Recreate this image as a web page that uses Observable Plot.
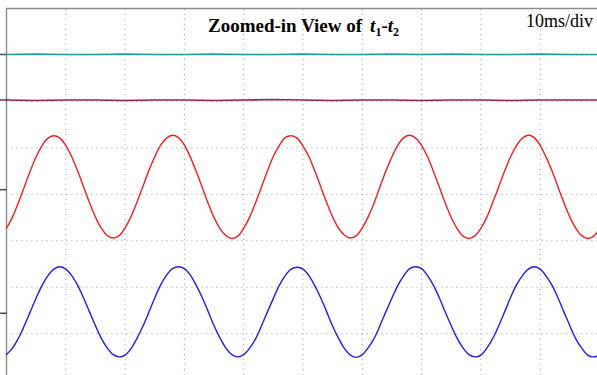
<!DOCTYPE html>
<html>
<head>
<meta charset="utf-8">
<script src="https://cdn.jsdelivr.net/npm/d3@7"></script>
<script src="https://cdn.jsdelivr.net/npm/@observablehq/plot@0.6"></script>
<style>
  html, body { margin: 0; padding: 0; background: #fff; }
  #chart svg { display: block; }
</style>
</head>
<body>
<div id="chart"></div>
<script>
// Oscilloscope capture, 10 ms per horizontal division; vertical values in divisions.
const sampleStepMs = 1;

// Channel 3 (red) sampled every 1 ms, 0–100 ms
const redTrace = [
  -0.73,-0.49,-0.18,0.16,0.50,0.81,1.05,1.21,1.26,1.21,1.05,0.81,0.50,0.16,-0.18,-0.49,-0.73,-0.89,-0.94,-0.89,
  -0.72,-0.48,-0.17,0.17,0.51,0.81,1.06,1.21,1.27,1.22,1.06,0.80,0.49,0.15,-0.19,-0.50,-0.74,-0.89,-0.95,-0.90,
  -0.73,-0.49,-0.18,0.16,0.50,0.82,1.05,1.22,1.26,1.21,1.04,0.81,0.50,0.16,-0.18,-0.49,-0.73,-0.88,-0.94,-0.89,
  -0.72,-0.48,-0.18,0.17,0.51,0.81,1.06,1.22,1.27,1.21,1.05,0.81,0.49,0.15,-0.19,-0.50,-0.74,-0.90,-0.95,-0.89,
  -0.73,-0.49,-0.17,0.16,0.50,0.81,1.05,1.21,1.27,1.22,1.05,0.80,0.50,0.16,-0.18,-0.49,-0.73,-0.89,-0.95,-0.90,
  -0.73
];

// Channel 4 (blue) sampled every 1 ms, 0–100 ms
const blueTrace = [
  -3.45,-3.31,-3.10,-2.83,-2.53,-2.23,-1.96,-1.75,-1.61,-1.56,-1.61,-1.75,-1.96,-2.23,-2.53,-2.83,-3.10,-3.31,-3.45,-3.50,
  -3.46,-3.32,-3.10,-2.84,-2.54,-2.23,-1.95,-1.74,-1.60,-1.56,-1.60,-1.74,-1.96,-2.22,-2.52,-2.83,-3.09,-3.31,-3.45,-3.50,
  -3.45,-3.31,-3.11,-2.83,-2.53,-2.24,-1.96,-1.75,-1.61,-1.57,-1.61,-1.75,-1.97,-2.23,-2.53,-2.84,-3.10,-3.32,-3.46,-3.51,
  -3.45,-3.30,-3.10,-2.82,-2.52,-2.23,-1.96,-1.75,-1.60,-1.56,-1.60,-1.75,-1.96,-2.23,-2.54,-2.83,-3.10,-3.31,-3.45,-3.50,
  -3.46,-3.31,-3.10,-2.83,-2.53,-2.22,-1.95,-1.75,-1.61,-1.56,-1.61,-1.76,-1.96,-2.23,-2.53,-2.83,-3.11,-3.31,-3.46,-3.50,
  -3.45
];

// Channels 1 (teal) and 2 (purple): flat traces sampled every 5 ms
const flatTimesMs = [0,5,10,15,20,25,30,35,40,45,50,55,60,65,70,75,80,85,90,95,100];
const tealTrace   = [3.01,3.02,3.01,3.01,3.02,3.01,3.01,3.02,3.01,3.01,3.02,3.01,3.01,3.02,3.01,3.02,3.01,3.01,3.02,3.01,3.01];
const purpleTrace = [2.03,2.02,2.03,2.03,2.02,2.03,2.03,2.02,2.03,2.04,2.03,2.02,2.03,2.03,2.02,2.03,2.03,2.02,2.03,2.03,2.03];

// Ground-reference markers on the left edge, one per channel
const markerLevels = [3.01, 2.03, 0.10, -2.56];

const gridTimesMs = [10,20,30,40,50,60,70,80,90];
const gridLevels = [-3,-2,-1,0,1,2,3];

const titleText = "Zoomed-in View of";
const scaleText = "10ms/div";

const sampled = values => values.map((v, i) => ({t: i * sampleStepMs, v}));
const flat = values => values.map((v, i) => ({t: flatTimesMs[i], v}));

const W = 597, H = 375;

const chart = Plot.plot({
  width: W,
  height: H,
  marginLeft: 6,
  marginRight: 0,
  marginTop: 8,
  marginBottom: 0,
  style: {background: "#fff"},
  x: {domain: [0, 99.66], axis: null},
  y: {domain: [-3.9, 4], axis: null},
  marks: [
    Plot.ruleX(gridTimesMs, {y1: -3.9, y2: 4, stroke: "#a8a8a8", strokeWidth: 1, strokeDasharray: "1.2,3.8"}),
    Plot.ruleY(gridLevels, {x1: 0.9, x2: 99.66, stroke: "#a8a8a8", strokeWidth: 1, strokeDasharray: "1.2,3.8"}),
    Plot.ruleY([4], {x1: 0, x2: 99.66, stroke: "#8c8c8c", strokeWidth: 1.4}),
    Plot.ruleX([0], {y1: -3.9, y2: 4, stroke: "#8c8c8c", strokeWidth: 1.4}),
    Plot.ruleY(markerLevels, {x1: -1.02, x2: 0.15, stroke: "#4a4a4a", strokeWidth: 1.5}),
    Plot.line(flat(tealTrace), {x: "t", y: "v", stroke: "#1f9c9a", strokeWidth: 1.6}),
    Plot.line(flat(purpleTrace), {x: "t", y: "v", stroke: "#8e1f55", strokeWidth: 1.6}),
    Plot.line(sampled(redTrace), {x: "t", y: "v", curve: "catmull-rom", stroke: "#f21f1f", strokeWidth: 1.4}),
    Plot.line(sampled(blueTrace), {x: "t", y: "v", curve: "catmull-rom", stroke: "#1e1ee6", strokeWidth: 1.4})
  ]
});

// Title with subscripted time markers, and the time-base annotation
const svg = d3.select(chart);
const title = svg.append("text")
  .attr("x", 208).attr("y", 32).attr("text-anchor", "start")
  .attr("font-family", "'Liberation Serif', 'Times New Roman', serif")
  .attr("font-size", 19).attr("font-weight", "bold").attr("fill", "#000");
title.append("tspan").text(titleText);
title.append("tspan").attr("dx", 8).attr("font-style", "italic").text("t");
title.append("tspan").attr("font-size", 12).attr("dy", 4).text("1");
title.append("tspan").attr("dy", -4).text("-");
title.append("tspan").attr("font-style", "italic").text("t");
title.append("tspan").attr("font-size", 12).attr("dy", 4).text("2");

svg.append("text")
  .attr("x", 593).attr("y", 27).attr("text-anchor", "end")
  .attr("font-family", "'Liberation Serif', 'Times New Roman', serif")
  .attr("font-size", 18).attr("fill", "#000")
  .text(scaleText);

document.getElementById("chart").appendChild(chart);
</script>
</body>
</html>
